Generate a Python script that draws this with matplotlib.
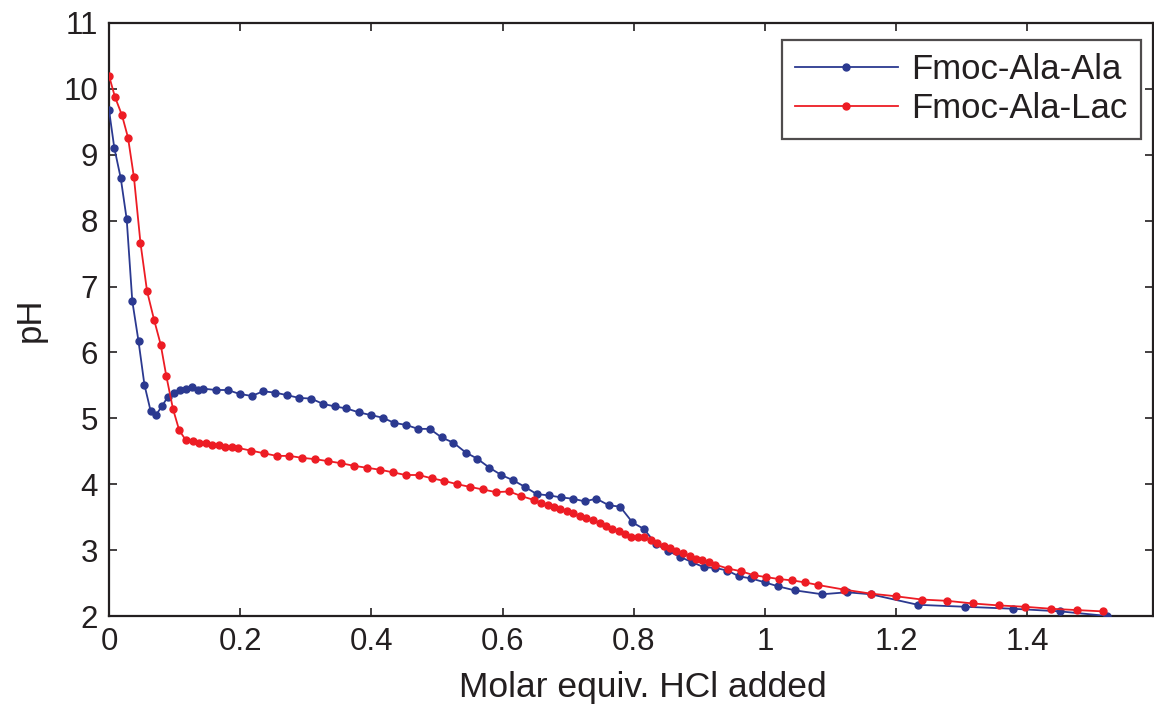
import matplotlib
matplotlib.use("Agg")
import matplotlib.pyplot as plt

plt.rcParams['font.family'] = ['Liberation Sans', 'DejaVu Sans']

# Fmoc-Ala-Ala (blue)
ala_x = [0.000, 0.008, 0.018, 0.027, 0.0355, 0.045, 0.054, 0.0635, 0.0716, 0.081,
         0.090, 0.099, 0.108, 0.117, 0.1265, 0.135, 0.144, 0.163, 0.181, 0.199,
         0.2175, 0.235, 0.2535, 0.272, 0.290, 0.308, 0.326, 0.3445, 0.362, 0.381,
         0.399, 0.417, 0.435, 0.453, 0.471, 0.489, 0.507, 0.525, 0.544, 0.561,
         0.580, 0.598, 0.616, 0.634, 0.652, 0.671, 0.689, 0.707, 0.725, 0.743,
         0.762, 0.779, 0.798, 0.8155, 0.834, 0.852, 0.870, 0.888, 0.907, 0.924,
         0.9425, 0.961, 0.979, 1.000, 1.020, 1.045, 1.087, 1.125, 1.161, 1.233,
         1.305, 1.378, 1.450, 1.522]
ala_y = [9.68, 9.11, 8.64, 8.02, 6.78, 6.17, 5.51, 5.11, 5.05, 5.19,
         5.33, 5.39, 5.43, 5.44, 5.48, 5.43, 5.45, 5.43, 5.43, 5.37,
         5.34, 5.41, 5.39, 5.35, 5.31, 5.30, 5.22, 5.18, 5.15, 5.09,
         5.05, 5.01, 4.93, 4.90, 4.84, 4.84, 4.71, 4.63, 4.48, 4.39,
         4.25, 4.14, 4.06, 3.96, 3.85, 3.83, 3.80, 3.78, 3.74, 3.78,
         3.68, 3.66, 3.42, 3.32, 3.09, 2.99, 2.90, 2.82, 2.74, 2.73,
         2.69, 2.60, 2.57, 2.51, 2.45, 2.39, 2.33, 2.36, 2.33, 2.17,
         2.14, 2.11, 2.07, 2.00]

# Fmoc-Ala-Lac (red)
lac_x = [0.000, 0.009, 0.0198, 0.029, 0.038, 0.048, 0.058, 0.0686, 0.0788, 0.0874,
         0.0976, 0.107, 0.117, 0.1275, 0.1377, 0.1474, 0.1575, 0.167, 0.177, 0.187,
         0.197, 0.2165, 0.236, 0.2556, 0.275, 0.2947, 0.3145, 0.334, 0.353, 0.373,
         0.393, 0.413, 0.433, 0.452, 0.472, 0.492, 0.511, 0.531, 0.550, 0.570,
         0.590, 0.610, 0.6285, 0.648, 0.6585, 0.6687, 0.678, 0.688, 0.698, 0.708,
         0.7175, 0.7276, 0.7374, 0.748, 0.757, 0.767, 0.777, 0.786, 0.796, 0.806,
         0.816, 0.826, 0.836, 0.8456, 0.855, 0.865, 0.875, 0.885, 0.895, 0.904,
         0.914, 0.924, 0.9436, 0.963, 0.9827, 1.002, 1.022, 1.0416, 1.061, 1.081,
         1.121, 1.161, 1.199, 1.239, 1.278, 1.317, 1.357, 1.396, 1.436, 1.475,
         1.515]
lac_y = [10.20, 9.88, 9.60, 9.26, 8.66, 7.66, 6.93, 6.50, 6.12, 5.64,
         5.14, 4.82, 4.67, 4.66, 4.62, 4.62, 4.60, 4.60, 4.57, 4.56,
         4.55, 4.51, 4.47, 4.43, 4.43, 4.40, 4.38, 4.35, 4.32, 4.28,
         4.25, 4.22, 4.18, 4.14, 4.14, 4.09, 4.05, 4.00, 3.96, 3.92,
         3.88, 3.89, 3.82, 3.76, 3.71, 3.68, 3.66, 3.62, 3.59, 3.56,
         3.52, 3.49, 3.46, 3.41, 3.37, 3.32, 3.29, 3.25, 3.20, 3.20,
         3.20, 3.15, 3.11, 3.06, 3.03, 2.99, 2.95, 2.91, 2.86, 2.85,
         2.82, 2.78, 2.72, 2.68, 2.62, 2.59, 2.56, 2.54, 2.51, 2.47,
         2.40, 2.34, 2.30, 2.25, 2.23, 2.19, 2.16, 2.14, 2.11, 2.09,
         2.07]

x_ticks = [0, 0.2, 0.4, 0.6, 0.8, 1.0, 1.2, 1.4]
x_tick_labels = ['0', '0.2', '0.4', '0.6', '0.8', '1', '1.2', '1.4']
y_ticks = [2, 3, 4, 5, 6, 7, 8, 9, 10, 11]

W, H = 1154, 706
fig = plt.figure(figsize=(W / 100, H / 100), dpi=100)
ax = fig.add_axes([109 / W, (H - 616) / H, (1153 - 109) / W, (616 - 23) / H])

blue = '#2B3990'
red = '#ED1C24'
ink = '#231F20'
ax.plot(ala_x, ala_y, '-', color=blue, lw=1.3, marker='o', ms=5, mfc=blue, mec=blue,
        label='Fmoc-Ala-Ala', zorder=3)
ax.plot(lac_x, lac_y, '-', color=red, lw=1.3, marker='o', ms=5, mfc=red, mec=red,
        label='Fmoc-Ala-Lac', zorder=3)

ax.set_xlim(0, (1153 - 109) / 656.0)
ax.set_ylim(2, 11)
ax.set_xticks(x_ticks)
ax.set_xticklabels(x_tick_labels)
ax.set_yticks(y_ticks)
ax.tick_params(direction='in', length=6, width=1.2, top=True, right=True,
               labelsize=22.5, pad=8, colors=ink)
for s in ax.spines.values():
    s.set_linewidth(1.6)
    s.set_color(ink)

ax.set_xlabel('Molar equiv. HCl added', fontsize=25.5, color=ink, va='center')
ax.xaxis.set_label_coords((643 - 109) / 1044, -(688 - 616) / 593)
ax.set_ylabel('pH', fontsize=25, labelpad=12, color=ink)

leg = ax.legend(loc='upper right', bbox_to_anchor=(1141 / W, (H - 40) / H),
                bbox_transform=fig.transFigure, borderaxespad=0, fontsize=25,
                frameon=True, fancybox=False, edgecolor=ink,
                handlelength=2.95, handletextpad=0.4, borderpad=0.38,
                labelspacing=0.18, numpoints=1)
leg.get_frame().set_linewidth(1.6)
for t in leg.get_texts():
    t.set_color(ink)

fig.savefig('out.png', dpi=100)
